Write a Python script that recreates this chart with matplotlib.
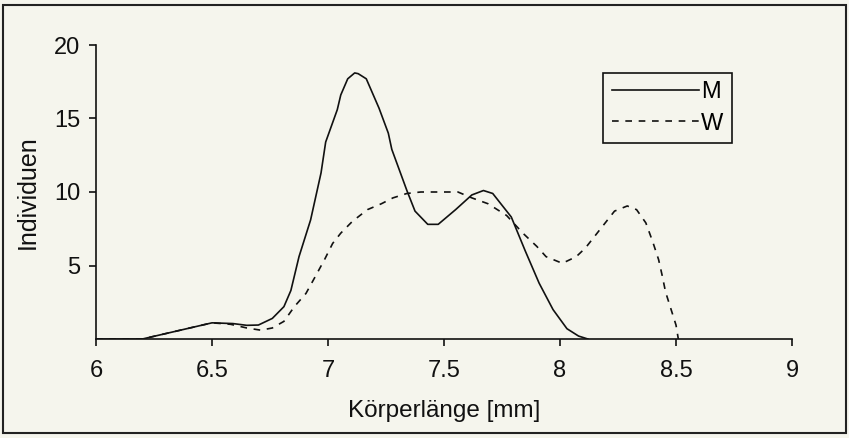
import matplotlib.pyplot as plt
from matplotlib.patches import Rectangle

plt.rcParams['font.family'] = ['Liberation Sans', 'DejaVu Sans']

# Körperlänge [mm] / Individuen
m_x = [6.0, 6.2, 6.5, 6.59, 6.65, 6.7, 6.76, 6.81, 6.84, 6.875, 6.925, 6.97, 6.99,
       7.04, 7.055, 7.085, 7.115, 7.13, 7.165, 7.22, 7.26, 7.275, 7.34, 7.375,
       7.43, 7.475, 7.55, 7.62, 7.67, 7.71, 7.79, 7.85, 7.91, 7.97, 8.03, 8.08, 8.12]
m_y = [0, 0, 1.1, 1.05, 0.93, 0.95, 1.4, 2.2, 3.3, 5.6, 8.1, 11.3, 13.4,
       15.6, 16.6, 17.7, 18.1, 18.05, 17.7, 15.7, 14.0, 12.9, 10.1, 8.7,
       7.8, 7.8, 8.8, 9.8, 10.1, 9.9, 8.3, 6.0, 3.8, 2.0, 0.7, 0.2, 0]

w_x = [6.0, 6.2, 6.5, 6.58, 6.65, 6.71, 6.76, 6.81, 6.855, 6.905, 6.94, 6.985,
       7.02, 7.055, 7.105, 7.17, 7.23, 7.28, 7.34, 7.40, 7.56, 7.62, 7.69, 7.77,
       7.84, 7.90, 7.94, 8.01, 8.07, 8.11, 8.15, 8.19, 8.235, 8.29, 8.33, 8.37,
       8.40, 8.425, 8.44, 8.455, 8.475, 8.50, 8.51]
w_y = [0, 0, 1.1, 1.0, 0.75, 0.6, 0.75, 1.2, 2.2, 3.1, 4.1, 5.4,
       6.5, 7.2, 8.0, 8.8, 9.2, 9.6, 9.9, 10.0, 10.0, 9.6, 9.2, 8.4,
       7.2, 6.3, 5.6, 5.15, 5.6, 6.2, 7.0, 7.8, 8.7, 9.05, 8.8, 7.9,
       6.6, 5.4, 4.35, 3.2, 2.2, 0.95, 0]

x_ticks = [6, 6.5, 7, 7.5, 8, 8.5, 9]
x_labels = ['6', '6.5', '7', '7.5', '8', '8.5', '9']
y_ticks = [5, 10, 15, 20]

bg = '#f5f5ed'
ink = '#111111'
fig = plt.figure(figsize=(8.49, 4.38), dpi=100)
fig.patch.set_facecolor(bg)
ax = fig.add_axes([96 / 849, 1 - 339 / 438, 696 / 849, 294 / 438])
ax.set_facecolor(bg)

ax.plot(m_x, m_y, color=ink, lw=1.2, label='M')
ax.plot(w_x, w_y, color=ink, lw=1.2, linestyle=(0, (4, 4)), label='W')

ax.set_xlim(6, 9)
ax.set_ylim(0, 20)
ax.set_xticks(x_ticks)
ax.set_xticklabels(x_labels)
ax.set_yticks(y_ticks)
for s in ['top', 'right']:
    ax.spines[s].set_visible(False)
for s in ['left', 'bottom']:
    ax.spines[s].set_linewidth(1.2)
    ax.spines[s].set_color(ink)
ax.tick_params(axis='both', direction='out', length=5, width=1.2,
               labelsize=17, colors=ink)
ax.tick_params(axis='x', pad=10)
ax.tick_params(axis='y', pad=6.5)

ax.set_xlabel('Körperlänge [mm]', fontsize=17.5, labelpad=13, color=ink)
ax.set_ylabel('Individuen', fontsize=18, labelpad=10, color=ink)

leg = ax.legend(loc='upper left', bbox_to_anchor=(0.729, 0.905), fontsize=17,
                handlelength=3.7, handletextpad=0.1, labelspacing=0.4,
                borderpad=0.35, borderaxespad=0, fancybox=False, framealpha=1)
leg.get_frame().set_edgecolor(ink)
leg.get_frame().set_facecolor(bg)
leg.get_frame().set_linewidth(1.2)

# outer frame of the picture
fig.patches.append(Rectangle((0.004, 0.012), 0.992, 0.976, transform=fig.transFigure,
                             fill=False, edgecolor='#222222', lw=1.5))

fig.savefig('out.png', dpi=100, facecolor=bg)
